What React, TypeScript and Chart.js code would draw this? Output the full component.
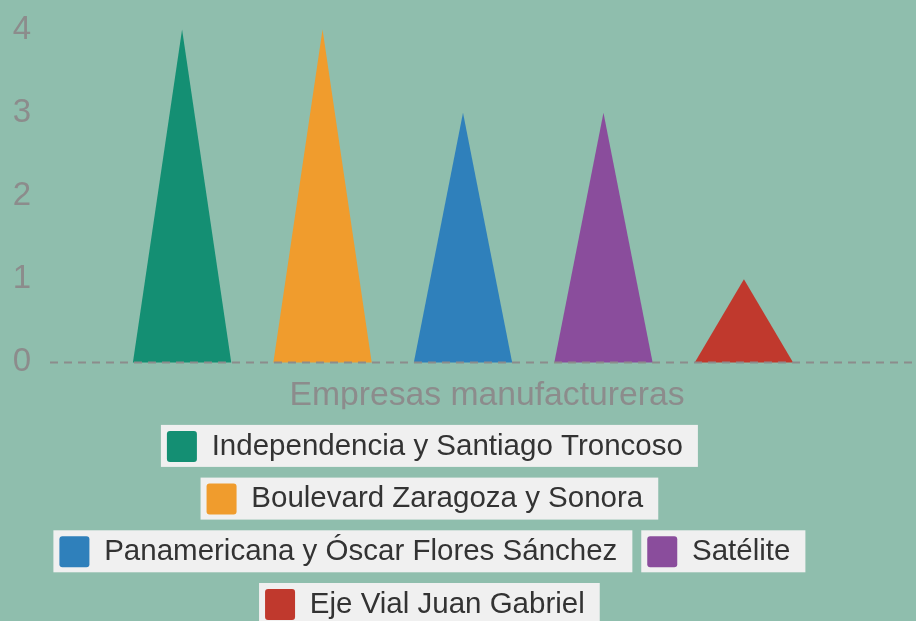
import React, { useEffect, useRef } from 'react';
import { Chart, registerables } from 'chart.js';

Chart.register(...registerables);

const categories = ['Empresas manufactureras'];
const seriesNames = [
  'Independencia y Santiago Troncoso',
  'Boulevard Zaragoza y Sonora',
  'Panamericana y Óscar Flores Sánchez',
  'Satélite',
  'Eje Vial Juan Gabriel',
];
const seriesValues = [4, 4, 3, 3, 1];
const seriesColors = ['#148f73', '#f09c2d', '#2f80bb', '#8a4d9c', '#c0392d'];
const yTicks = [0, 1, 2, 3, 4];

const BG = '#8fbead';
const GRAY = '#8c8c8c';
const FONT = "'Liberation Sans', Arial, sans-serif";
const LEGEND_SIZE = 29.5;
const BOX_W = 30;

const trianglePlugin = {
  id: 'triangles',
  beforeDraw(chart: any) {
    const { ctx } = chart;
    ctx.save();
    ctx.fillStyle = BG;
    ctx.fillRect(0, 0, chart.width, chart.height);
    const legend = chart.legend;
    if (legend && legend.legendHitBoxes) {
      ctx.font = `${LEGEND_SIZE}px ${FONT}`;
      ctx.fillStyle = '#f0f0f0';
      legend.legendHitBoxes.forEach((hb: any, i: number) => {
        const item = legend.legendItems[i];
        const tw = ctx.measureText(String(item.text).trim()).width;
        const w = BOX_W + LEGEND_SIZE / 2 + tw;
        ctx.fillRect(hb.left - 6, hb.top - 6, w + 21, hb.height + 11);
      });
    }
    ctx.restore();
  },
  beforeDatasetsDraw(chart: any) {
    const { ctx, chartArea } = chart;
    ctx.save();
    chart.data.datasets.forEach((ds: any, i: number) => {
      const meta = chart.getDatasetMeta(i);
      if (meta.hidden) return;
      meta.data.forEach((el: any) => {
        const { x, y, base, width } = el.getProps(['x', 'y', 'base', 'width'], true);
        ctx.beginPath();
        ctx.moveTo(x - width / 2, base);
        ctx.lineTo(x, y);
        ctx.lineTo(x + width / 2, base);
        ctx.closePath();
        ctx.fillStyle = ds.backgroundColor;
        ctx.fill();
      });
    });
    const y0 = chart.scales.y.getPixelForValue(0);
    ctx.beginPath();
    ctx.setLineDash([8, 6]);
    ctx.lineWidth = 2;
    ctx.strokeStyle = GRAY;
    ctx.moveTo(chartArea.left - 18, y0);
    ctx.lineTo(chart.width, y0);
    ctx.stroke();
    ctx.restore();
    return false;
  },
};

export default function App() {
  const ref = useRef<HTMLCanvasElement | null>(null);
  useEffect(() => {
    document.body.style.margin = '0';
    document.body.style.overflow = 'hidden';
    const chart = new Chart(ref.current as HTMLCanvasElement, {
      type: 'bar',
      data: {
        labels: categories,
        datasets: seriesNames.map((name, i) => ({
          label: name,
          data: [seriesValues[i]],
          backgroundColor: seriesColors[i],
          borderWidth: 0,
          categoryPercentage: 0.889,
          barPercentage: 0.7,
        })),
      },
      options: {
        responsive: false,
        animation: false,
        layout: { padding: { top: 29.5, right: 58, bottom: 10, left: 0 } },
        scales: {
          x: {
            grid: { display: false },
            border: { display: false },
            afterFit: (scale: any) => {
              scale.height = 46.8;
            },
            ticks: {
              color: GRAY,
              font: { family: FONT, size: 33.7 },
              padding: 5,
              labelOffset: 24,
            },
          },
          y: {
            min: 0,
            max: 4,
            afterBuildTicks: (scale: any) => {
              scale.ticks = yTicks.map((v) => ({ value: v }));
            },
            afterFit: (scale: any) => {
              scale.width = 68;
              scale.paddingTop = 0;
              scale.paddingBottom = 0;
            },
            grid: { display: false, drawTicks: false },
            border: { display: false },
            ticks: {
              color: GRAY,
              font: { family: FONT, size: 33 },
              padding: 37,
            },
          },
        },
        plugins: {
          tooltip: { enabled: false },
          legend: {
            position: 'bottom',
            labels: {
              color: '#333333',
              font: { family: FONT, size: LEGEND_SIZE },
              boxWidth: BOX_W,
              boxHeight: 31,
              padding: 21.7,
              useBorderRadius: true,
              borderRadius: 3,
              generateLabels: (c: any) =>
                Chart.defaults.plugins.legend.labels.generateLabels(c).map((it: any) => ({
                  ...it,
                  text: it.text + ' ',
                })),
            },
          },
        },
      },
      plugins: [trianglePlugin],
    } as any);
    return () => chart.destroy();
  }, []);
  return (
    <div style={{ position: 'fixed', left: 0, top: 0, width: 916, height: 621, overflow: 'hidden' }}>
      <canvas ref={ref} width={916} height={640} style={{ display: 'block', width: 916, height: 640 }} />
    </div>
  );
}
